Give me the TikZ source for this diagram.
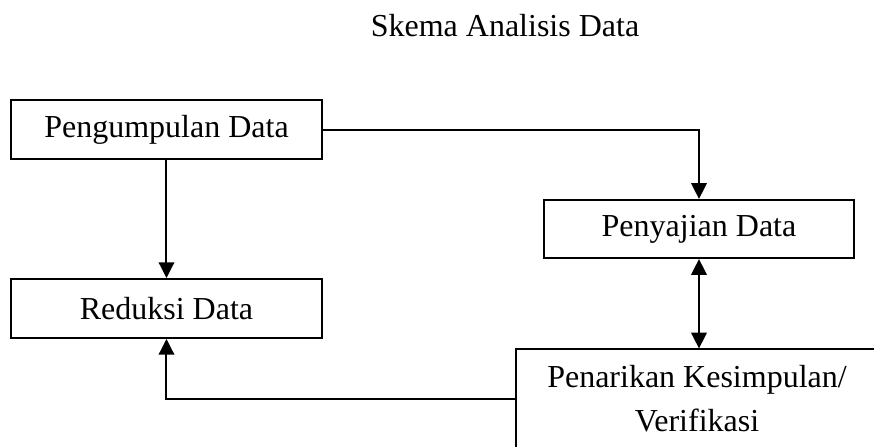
\documentclass[tikz,border=0pt]{standalone}
\usepackage{fontspec}
\setmainfont{Liberation Serif}
\usetikzlibrary{arrows.meta}
\begin{document}
\begin{tikzpicture}[x=0.375pt,y=-0.375pt,
  flowbox/.style={draw=black, line width=0.75pt, inner sep=0pt, align=center,
    font=\fontsize{12}{14.3}\selectfont},
  tip/.tip={Triangle[width=5.8pt,length=5.9pt]},
  arr/.style={line width=0.75pt, -tip},
  darr/.style={line width=0.75pt, tip-tip}]
  \useasboundingbox (0,0) rectangle (874,447);
  \node[font=\fontsize{12}{14.3}\selectfont] (title) at (505,26) {Skema Analisis Data};
  \node[flowbox, minimum width=116.6pt, minimum height=22.1pt] (kumpul) at (166.5,129.5) {\raisebox{-1pt}{Pengumpulan Data}};
  \node[flowbox, minimum width=116.3pt, minimum height=22.1pt] (reduksi) at (166.5,308.5) {Reduksi Data};
  \node[flowbox, minimum width=115.9pt, minimum height=21.8pt] (sajian) at (699,229) {\raisebox{-1pt}{Penyajian Data}};
  \node[flowbox, minimum width=135.8pt, minimum height=36.8pt] (tarik) at (697,398.5) {Penarikan Kesimpulan/\\[2.4pt]Verifikasi};
  \draw[arr] (kumpul.south) -- (reduksi.north);
  \draw[arr] (kumpul.east) -| (sajian.north);
  \draw[darr] (sajian.south) -- (sajian.south |- tarik.north);
  \draw[arr] (tarik.west) -| (reduksi.south);
\end{tikzpicture}
\end{document}
